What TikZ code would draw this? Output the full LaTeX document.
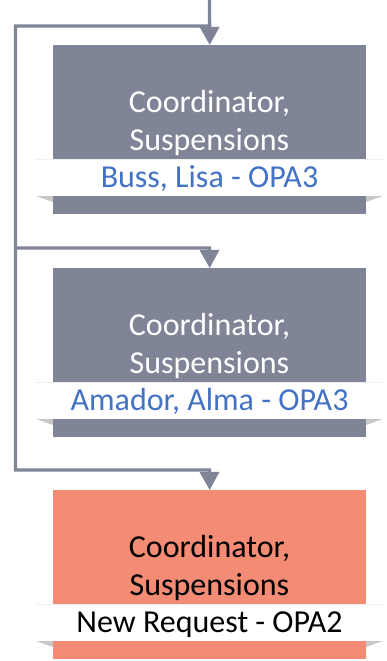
\documentclass[tikz,border=0pt]{standalone}
\usepackage{fontspec}
\setmainfont{Carlito}
\usetikzlibrary{arrows.meta}
\definecolor{boxgray}{RGB}{127,133,150}
\definecolor{salmon}{RGB}{244,139,116}
\definecolor{labelblue}{RGB}{68,114,196}
\definecolor{shadowgray}{RGB}{200,200,200}
\tikzset{
  conn/.style={draw=boxgray, line width=3.3pt, line join=miter,
    -{Triangle[length=18pt,width=19pt]}},
  grayboxstyle/.style={fill=boxgray, draw=none, minimum width=313pt, minimum height=169pt, inner sep=0pt, anchor=north west},
  salmonboxstyle/.style={fill=salmon, draw=none, minimum width=313pt, minimum height=169pt, inner sep=0pt, anchor=north west},
  titletext/.style={align=center, inner sep=0pt, font=\fontsize{32}{38.5}\selectfont},
  labeltext/.style={inner sep=0pt, anchor=base, font=\fontsize{32}{38.5}\selectfont},
}
\newcommand{\bandat}[1]{%
  \fill[shadowgray] (36,#1+37) -- (383,#1+37) -- (366,#1+43) -- (53,#1+43) -- cycle;
}
\newcommand{\bandwhite}[1]{%
  \fill[white] (35,#1) rectangle (383,#1+37);
  \draw[gray!12, line width=0.8pt] (35,#1) -- (383,#1);
}
\begin{document}
\begin{tikzpicture}[x=1pt,y=-1pt]
\useasboundingbox (0,0) rectangle (386,661);
% shadows under bands
\bandat{159}
\bandat{382}
\bandat{604}
% boxes
\node[grayboxstyle] (b1) at (53,45) {};
\node[grayboxstyle] (b2) at (53,268) {};
\node[salmonboxstyle] (b3) at (53,490) {};
% bands
\bandwhite{159}
\bandwhite{382}
\bandwhite{604}
% titles
\node[titletext, text=white] (t1) at (209.5,123) {Coordinator,\\Suspensions};
\node[titletext, text=white] (t2) at (209.5,346) {Coordinator,\\Suspensions};
\node[titletext, text=black] (t3) at (209.5,568) {Coordinator,\\Suspensions};
% labels
\node[labeltext, text=labelblue] (l1) at (209.5,187) {Buss, Lisa - OPA3};
\node[labeltext, text=labelblue] (l2) at (209.5,410) {Amador, Alma - OPA3};
\node[labeltext, text=black] (l3) at (209.5,632) {New Request - OPA2};
% connectors
\coordinate (top) at (209.5,0);
\coordinate (j1) at (209.5,26);
\coordinate (c1) at (15.5,26);
\coordinate (c2) at (15.5,248);
\coordinate (c3) at (15.5,470);
\coordinate (h2) at (209.5,248);
\coordinate (h3) at (209.5,470);
\draw[conn] (top) -- (b1.north);
\draw[conn] (c2) -- (h2) -- (b2.north);
\draw[conn] (j1) -- (c1) -- (c3) -- (h3) -- (b3.north);
\end{tikzpicture}
\end{document}
